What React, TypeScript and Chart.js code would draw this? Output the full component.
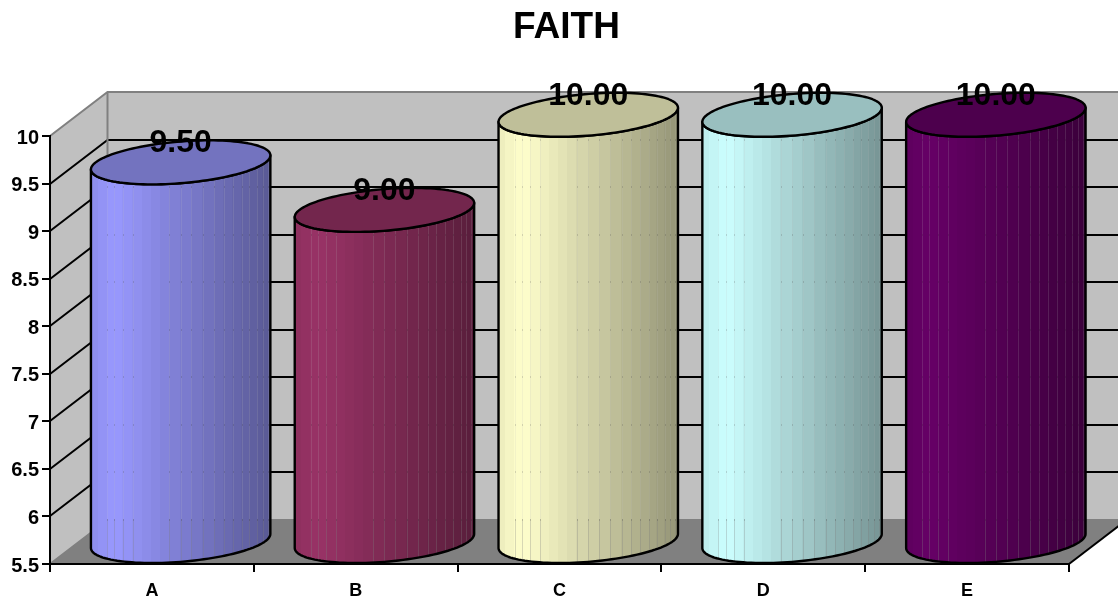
import React, { useEffect, useRef } from "react";
import { Chart, BarController, registerables } from "chart.js";

const categories = ["A", "B", "C", "D", "E"];
const values = [9.5, 9.0, 10.0, 10.0, 10.0];
const sideColors = ["#9999FF", "#993366", "#FFFFCC", "#CCFFFF", "#660066"];
const yTicks = [5.5, 6, 6.5, 7, 7.5, 8, 8.5, 9, 9.5, 10];
const titleText = "FAITH";

const DEPTH_X = 57.5;
const DEPTH_Y = 44;
const FONT = '"Liberation Sans", Arial, sans-serif';
const stripeStops = [0.09, 0.13, 0.177, 0.232, 0.437, 0.5, 0.56, 0.623, 0.688, 0.74, 0.79, 0.84, 0.883, 0.926, 0.957, 0.985];
const extraBands = [0.04, 0.285, 0.335, 0.385];

function shade(hex: string, f: number) {
  const n = parseInt(hex.slice(1), 16);
  const c = [(n >> 16) & 255, (n >> 8) & 255, n & 255].map((v) => Math.round(v * f));
  return `rgb(${c[0]},${c[1]},${c[2]})`;
}

function shadeAt(p: number) {
  if (p < 0.13) return 0.92 + (0.08 * p) / 0.13;
  return 1 - ((p - 0.13) / 0.87) * 0.42;
}

class CylinderController extends BarController {
  static id = "cylinder";
  draw() {
    const chart = this.chart as any;
    const ctx = chart.ctx;
    const yS = chart.scales.y;
    const colors = this.getDataset().backgroundColor as string[];
    const bands = [0, ...stripeStops, ...extraBands, 1].sort((a, b) => a - b);
    this.getMeta().data.forEach((el: any, i: number) => {
      const R = el.width / 2;
      const dx = DEPTH_X / 2;
      const dy = DEPTH_Y / 2;
      const cx = el.x + dx;
      const topY = el.y - dy + 0.8;
      const botY = el.base - dy;
      const t0 = Math.atan2(dx, R);
      const pt = (t: number, cy: number) => [cx + R * Math.cos(t) + dx * Math.sin(t), cy - dy * Math.sin(t)];
      const steps = 60;
      const side = new Path2D();
      for (let s = 0; s <= steps; s++) {
        const p = pt(t0 + Math.PI + (Math.PI * s) / steps, botY);
        s === 0 ? side.moveTo(p[0], p[1]) : side.lineTo(p[0], p[1]);
      }
      for (let s = 0; s <= steps; s++) {
        const p = pt(t0 + 2 * Math.PI - (Math.PI * s) / steps, topY);
        side.lineTo(p[0], p[1]);
      }
      side.closePath();
      const left = pt(t0 + Math.PI, botY)[0];
      const right = pt(t0, botY)[0];
      const w = right - left;
      const base = colors[i];
      const up = el.y - DEPTH_Y;
      const down = el.base + 3;
      const floorY = el.base - DEPTH_Y;

      ctx.save();
      ctx.clip(side);
      for (let b = 0; b < bands.length - 1; b++) {
        const x0 = left + bands[b] * w;
        const x1 = left + bands[b + 1] * w;
        ctx.fillStyle = shade(base, shadeAt((bands[b] + bands[b + 1]) / 2));
        ctx.fillRect(Math.floor(x0), up, Math.ceil(x1) - Math.floor(x0) + 1, down - up);
      }
      // hairline seams between the facets let the background show through
      ctx.lineWidth = 1;
      stripeStops.forEach((p) => {
        const x = Math.round(left + p * w) + 0.5;
        ctx.strokeStyle = "rgba(192,192,192,0.16)";
        ctx.beginPath();
        ctx.moveTo(x, up);
        ctx.lineTo(x, floorY);
        ctx.stroke();
        ctx.strokeStyle = "rgba(128,128,128,0.3)";
        ctx.beginPath();
        ctx.moveTo(x, floorY);
        ctx.lineTo(x, down);
        ctx.stroke();
        ctx.fillStyle = "rgba(0,0,0,0.13)";
        yS.ticks.forEach((t: any) => {
          const gy = Math.round(yS.getPixelForValue(t.value)) - DEPTH_Y;
          if (gy > up && gy <= floorY + 1) ctx.fillRect(x - 0.5, gy - 1, 1, 2);
        });
      });
      ctx.restore();

      ctx.lineWidth = 2.4;
      ctx.strokeStyle = "#000";
      ctx.lineJoin = "round";
      ctx.stroke(side);

      const top = new Path2D();
      for (let s = 0; s <= 120; s++) {
        const p = pt((2 * Math.PI * s) / 120, topY);
        s === 0 ? top.moveTo(p[0], p[1]) : top.lineTo(p[0], p[1]);
      }
      top.closePath();
      ctx.fillStyle = shade(base, 0.75);
      ctx.fill(top);
      ctx.stroke(top);
    });
  }
}

const wallsPlugin = {
  id: "walls",
  afterLayout(chart: any) {
    chart.titleBlock.left = 15;
    chart.titleBlock.right = 1118;
  },
  beforeDraw(chart: any) {
    const { ctx, chartArea: a, scales } = chart;
    const yS = scales.y;
    const W = chart.width;
    const bx = a.left + DEPTH_X;
    const rx = a.right + DEPTH_X;
    const gy = (y: number) => y - DEPTH_Y;
    ctx.save();
    ctx.fillStyle = "#C0C0C0";
    ctx.fillRect(bx, gy(a.top), W - bx + 20, a.bottom - a.top);
    ctx.beginPath();
    ctx.moveTo(a.left, a.top);
    ctx.lineTo(bx, gy(a.top));
    ctx.lineTo(bx, gy(a.bottom));
    ctx.lineTo(a.left, a.bottom);
    ctx.closePath();
    ctx.fill();
    ctx.fillStyle = "#808080";
    ctx.beginPath();
    ctx.moveTo(a.left, a.bottom);
    ctx.lineTo(bx, gy(a.bottom));
    ctx.lineTo(rx, gy(a.bottom));
    ctx.lineTo(a.right, a.bottom);
    ctx.closePath();
    ctx.fill();
    ctx.strokeStyle = "#000";
    ctx.lineWidth = 2;
    yS.ticks.forEach((t: any) => {
      if (t.value <= yS.min || t.value >= yS.max) return;
      const y = Math.round(yS.getPixelForValue(t.value));
      ctx.beginPath();
      ctx.moveTo(a.left, y);
      ctx.lineTo(bx, gy(y));
      ctx.lineTo(W + 10, gy(y));
      ctx.stroke();
    });
    ctx.strokeStyle = "#808080";
    ctx.beginPath();
    ctx.moveTo(a.left, a.top);
    ctx.lineTo(bx, gy(a.top));
    ctx.lineTo(W + 10, gy(a.top));
    ctx.moveTo(bx, gy(a.top));
    ctx.lineTo(bx, gy(a.bottom));
    ctx.lineTo(W + 10, gy(a.bottom));
    ctx.moveTo(bx, gy(a.bottom));
    ctx.lineTo(a.left, a.bottom);
    ctx.stroke();
    ctx.strokeStyle = "#000";
    ctx.beginPath();
    ctx.moveTo(a.right, a.bottom);
    ctx.lineTo(rx, gy(a.bottom));
    ctx.stroke();
    ctx.restore();
  },
};

const valueLabelPlugin = {
  id: "valueLabels",
  afterDatasetsDraw(chart: any) {
    const { ctx } = chart;
    ctx.save();
    ctx.font = `bold 32px ${FONT}`;
    ctx.fillStyle = "#000";
    ctx.textAlign = "center";
    ctx.textBaseline = "middle";
    chart.getDatasetMeta(0).data.forEach((el: any, i: number) => {
      ctx.fillText(values[i].toFixed(2), el.x + DEPTH_X / 2, el.y - 40);
    });
    ctx.restore();
  },
};

Chart.register(...registerables, CylinderController);

export default function App() {
  const ref = useRef<HTMLCanvasElement | null>(null);
  useEffect(() => {
    const chart = new Chart(ref.current as HTMLCanvasElement, {
      type: "cylinder" as any,
      data: {
        labels: categories,
        datasets: [
          {
            label: titleText,
            data: values,
            base: yTicks[0],
            backgroundColor: sideColors,
            borderWidth: 0,
            barPercentage: 0.834,
            categoryPercentage: 1,
            clip: false,
          } as any,
        ],
      },
      plugins: [wallsPlugin, valueLabelPlugin],
      options: {
        responsive: false,
        animation: false,
        devicePixelRatio: 1,
        layout: { padding: { top: 4, right: 49, left: 0, bottom: 0 } },
        plugins: {
          legend: { display: false },
          tooltip: { enabled: false },
          title: {
            display: true,
            text: titleText,
            color: "#000",
            font: { family: FONT, size: 37, weight: "bold" },
            padding: { top: 2, bottom: 85.6 },
          },
        },
        scales: {
          x: {
            type: "category",
            offset: true,
            afterFit: (s: any) => {
              s.height = 38;
            },
            grid: { display: true, drawOnChartArea: false, drawTicks: true, tickLength: 8, color: "#000", lineWidth: 2, offset: true },
            border: { display: true, color: "#000", width: 2 },
            ticks: { color: "#000", font: { family: FONT, size: 18, weight: "bold" }, padding: 8, maxRotation: 0 },
          },
          y: {
            type: "linear",
            min: yTicks[0],
            max: yTicks[yTicks.length - 1],
            afterFit: (s: any) => {
              s.width = 50;
            },
            afterBuildTicks: (s: any) => {
              s.ticks = yTicks.map((value) => ({ value }));
            },
            grid: { display: true, drawOnChartArea: false, drawTicks: true, tickLength: 8, color: "#000", lineWidth: 2 },
            border: { display: true, color: "#000", width: 2 },
            ticks: { color: "#000", font: { family: FONT, size: 20, weight: "bold" }, padding: 3, labelOffset: 2, callback: (v: any) => String(v) },
          },
        },
      } as any,
    });
    return () => chart.destroy();
  }, []);
  return <canvas ref={ref} width={1118} height={602} style={{ position: "absolute", left: 0, top: 0, display: "block" }} />;
}
